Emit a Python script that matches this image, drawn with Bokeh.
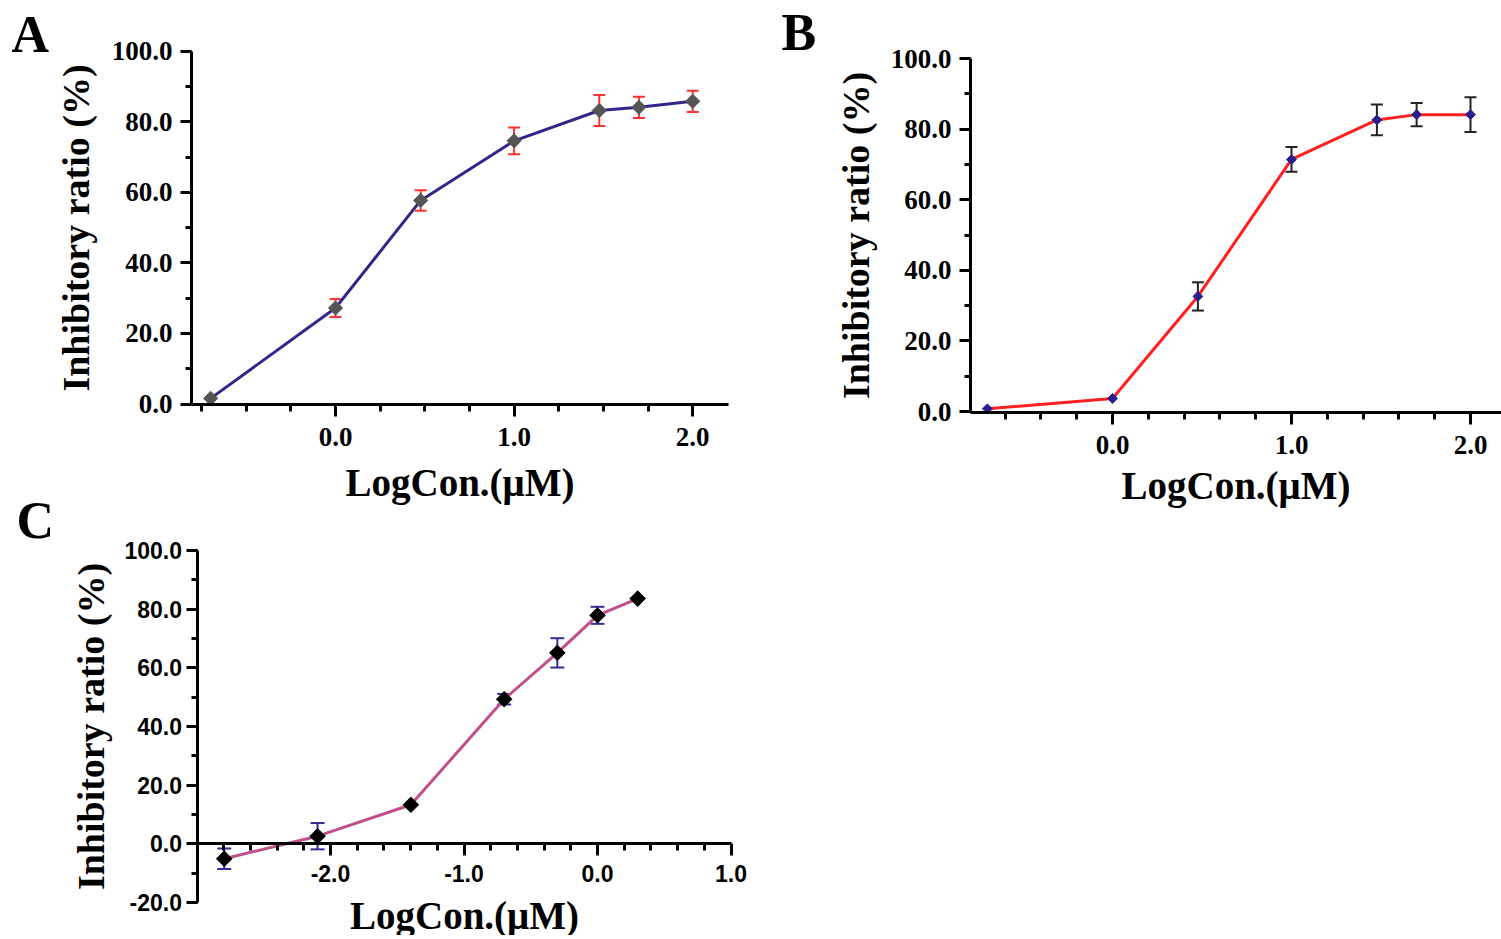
import numpy as np
from bokeh.plotting import figure
from bokeh.models import (Range1d, SingleIntervalTicker, FixedTicker, PrintfTickFormatter,
                          Whisker, TeeHead, ColumnDataSource, Label)
from bokeh.layouts import row, column
from bokeh.embed import file_html
from bokeh.resources import INLINE

# ---------------- data ----------------
a_x = [-0.699, 0.0, 0.477, 1.0, 1.477, 1.699, 2.0]
a_y = [1.6, 27.2, 57.7, 74.6, 83.2, 84.1, 85.8]
a_err = [0.0, 2.55, 2.9, 3.8, 4.4, 3.0, 3.0]

b_x = [-0.699, 0.0, 0.477, 1.0, 1.477, 1.699, 2.0]
b_y = [0.75, 3.7, 32.6, 71.4, 82.6, 84.1, 84.1]
b_err = [0.0, 0.0, 4.0, 3.5, 4.35, 3.3, 4.9]

c_x = [-2.796, -2.097, -1.398, -0.699, -0.301, 0.0, 0.301]
c_y = [-5.1, 2.6, 13.3, 49.3, 65.1, 77.9, 83.6]
c_err = [3.5, 4.5, 0.0, 1.8, 5.0, 2.9, 0.0]

c_minor_x = [-2.8, -2.6, -2.4, -2.2, -1.8, -1.6, -1.4, -1.2, -0.8, -0.6,
             -0.4, -0.2, 0.2, 0.4, 0.6, 0.8]
c_major_x = [-2.0, -1.0, 0.0, 1.0]

panel_letters = ["A", "B", "C"]
x_title = "LogCon.(μM)"
y_title = "Inhibitory ratio (%)"

SERIF = "Liberation Serif"
SANS = "Liberation Sans"


def lin(p0, v0, p1, v1):
    k = (v1 - v0) / (p1 - p0)
    return lambda px: v0 + (px - p0) * k


def letter_label(fx, fy, px, text):
    return Label(x=fx(px[0]), y=fy(px[1]), text=text,
                 text_font=SERIF, text_font_style="bold", text_font_size="52px",
                 text_baseline="alphabetic", text_align="left", text_color="black")


def make_panel(xs, ys, errs, origin, size, xcal, ycal, xaxis_px, yaxis_px,
               xend_px, ytop_val, ybot_val, xticker, line_color, marker_fill,
               marker_size, err_color, cap, tick_font, tick_size, letter,
               letter_px, xlab_standoff, ylab_standoff, xtick_standoff,
               ytick_standoff, xlab_size="39px", ylab_size="38px"):
    ox, oy = origin
    w, h = size
    fx = lin(*xcal)
    fy = lin(*ycal)
    xr = Range1d(fx(ox), fx(ox + w))
    yr = Range1d(fy(oy + h), fy(oy))
    p = figure(width=w, height=h, output_backend="svg", toolbar_location=None,
               x_range=xr, y_range=yr, min_border=0)
    p.title_location = None
    p.outline_line_color = None
    p.grid.visible = False
    p.background_fill_color = "white"
    p.border_fill_color = "white"

    x_loc = fx(yaxis_px)     # x value where the y axis sits
    y_loc = fy(xaxis_px)     # y value where the x axis sits
    p.xaxis.fixed_location = y_loc
    p.yaxis.fixed_location = x_loc
    p.xaxis.bounds = (x_loc, fx(xend_px))
    p.yaxis.bounds = (ybot_val if ybot_val is not None else y_loc, ytop_val)

    p.xaxis.ticker = xticker
    p.yaxis.ticker = SingleIntervalTicker(interval=20, num_minor_ticks=2)
    p.xaxis.formatter = PrintfTickFormatter(format="%.1f")
    p.yaxis.formatter = PrintfTickFormatter(format="%.1f")

    for ax in (p.xaxis, p.yaxis):
        ax.axis_line_width = 3
        ax.axis_line_color = "black"
        ax.major_tick_line_width = 3
        ax.minor_tick_line_width = 3
        ax.major_tick_line_color = "black"
        ax.minor_tick_line_color = "black"
        ax.major_tick_in = 0
        ax.minor_tick_in = 0
        ax.major_label_text_font = tick_font
        ax.major_label_text_font_style = "bold"
        ax.major_label_text_font_size = tick_size
        ax.major_label_text_color = "black"
        ax.axis_label_text_font = SERIF
        ax.axis_label_text_font_style = "bold"
        ax.axis_label_text_color = "black"
    p.xaxis.axis_label_text_font_size = xlab_size
    p.yaxis.axis_label_text_font_size = ylab_size
    p.xaxis.major_tick_out = 12
    p.xaxis.minor_tick_out = 7
    p.yaxis.major_tick_out = 11
    p.yaxis.minor_tick_out = 6
    p.xaxis.axis_label = x_title
    p.yaxis.axis_label = y_title
    p.xaxis.axis_label_standoff = xlab_standoff
    p.yaxis.axis_label_standoff = ylab_standoff
    p.xaxis.major_label_standoff = xtick_standoff
    p.yaxis.major_label_standoff = ytick_standoff

    # error bars
    ex = [x for x, e in zip(xs, errs) if e > 0]
    ey = [y for y, e in zip(ys, errs) if e > 0]
    ee = [e for e in errs if e > 0]
    src = ColumnDataSource(dict(x=ex, upper=[y + e for y, e in zip(ey, ee)],
                                lower=[y - e for y, e in zip(ey, ee)]))
    wsk = Whisker(source=src, base="x", upper="upper", lower="lower",
                  line_color=err_color, line_width=2,
                  upper_head=TeeHead(size=cap, line_color=err_color, line_width=2),
                  lower_head=TeeHead(size=cap, line_color=err_color, line_width=2),
                  level="underlay")
    p.add_layout(wsk)

    p.line(xs, ys, line_color=line_color, line_width=3)
    p.scatter(xs, ys, marker="square", angle=np.pi / 4, size=marker_size,
              fill_color=marker_fill, line_color=marker_fill)

    if letter is not None:
        p.add_layout(letter_label(fx, fy, letter_px, letter))
    return p


# strip on the left holding the letters of panels A and C (screen x 0..LW)
LW, LH = 55, 935
lfx = lin(0, 0.0, LW, float(LW))
lfy = lin(0, 0.0, LH, -float(LH))
pL = figure(width=LW, height=LH, output_backend="svg", toolbar_location=None,
            x_range=Range1d(lfx(0), lfx(LW)), y_range=Range1d(lfy(LH), lfy(0)),
            min_border=0, x_axis_type=None, y_axis_type=None)
pL.title_location = None
pL.outline_line_color = None
pL.grid.visible = False
pL.add_layout(letter_label(lfx, lfy, (11, 34), panel_letters[0]))
pL.add_layout(letter_label(lfx, lfy, (16, 520), panel_letters[2]))

# Panel A: screen region x LW..770, y 0..507
pA = make_panel(a_x, a_y, a_err, (LW, 0), (770 - LW, 507),
                (335, 0.0, 513.6, 1.0), (403.5, 0.0, 50.7, 100.0),
                404, 191, 728, 100.0, None,
                SingleIntervalTicker(interval=1, num_minor_ticks=4),
                "#35258a", "#555555", 10, "#ff3030", 12,
                SERIF, "27px", None, None, 12, 12, 11, 8)

# Panel B: screen region x 770..1501, y 0..520
pB = make_panel(b_x, b_y, b_err, (770, 0), (731, 520),
                (1112, 0.0, 1291, 1.0), (411, 0.0, 58, 100.0),
                412, 970, 1520, 100.0, None,
                SingleIntervalTicker(interval=1, num_minor_ticks=5),
                "#ff2020", "#2b1d8c", 7, "#222222", 12,
                SERIF, "27px", panel_letters[1], (781, 32), 7, 11, 11, 8)

# Panel C: screen region x LW..770, y 507..935
pC = make_panel(c_x, c_y, c_err, (LW, 507), (770 - LW, 428),
                (597, 0.0, 730.5, 1.0), (843.3, 0.0, 550.0, 100.0),
                843.3, 196.5, 730.5, 100.0, -20.0,
                FixedTicker(ticks=c_major_x, minor_ticks=c_minor_x),
                "#c04f8a", "#000000", 11, "#3a2a9a", 14,
                SANS, "23px", None, None, 9, 10, 9, 4)

layout = row(pL, column(pA, pC), pB)
open("out.html", "w").write(file_html(layout, INLINE))
